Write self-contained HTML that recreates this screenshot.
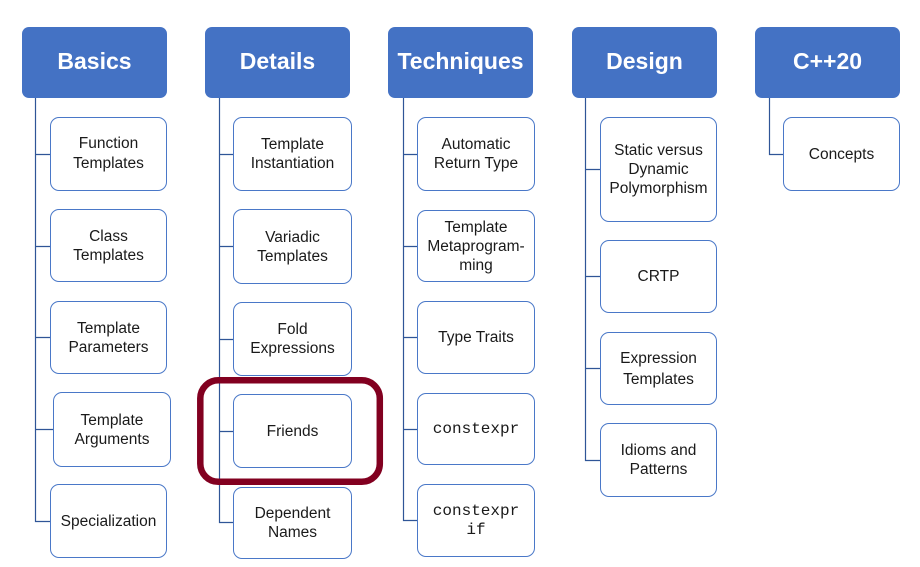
<!DOCTYPE html>
<html><head><meta charset="utf-8"><style>
html,body{margin:0;padding:0;background:#fff;}
body{width:920px;height:567px;position:relative;overflow:hidden;font-family:"Liberation Sans",sans-serif;}
.h{position:absolute;background:#4472c4;border-radius:7px;color:#fff;font-weight:bold;font-size:23px;display:flex;align-items:center;justify-content:center;top:27px;height:71px;width:145px;padding-bottom:2px;box-sizing:border-box;}
.b{position:absolute;box-sizing:border-box;border:1.3px solid #4a78c8;border-radius:9px;background:#fff;display:flex;align-items:center;justify-content:center;text-align:center;font-size:15.5px;line-height:19px;color:#1a1a1a;}
.m{font-family:"Liberation Mono",monospace;font-size:16px;}
svg{position:absolute;left:0;top:0;}
</style></head><body>
<svg width="920" height="567">
<g stroke="#2f5597" stroke-width="1.2" fill="none">
<path d="M35.5 98V521.5H50M35.5 154.5H50M35.5 246.5H50M35.5 337.5H50M35.5 429.5H53"/>
<path d="M219.5 98V522.5H233M219.5 154.5H233M219.5 246.5H233M219.5 339.5H233M219.5 431.5H233"/>
<path d="M403.5 98V520.5H417M403.5 154.5H417M403.5 246.5H417M403.5 337.5H417M403.5 429.5H417"/>
<path d="M585.5 98V460.5H600M585.5 169.5H600M585.5 276.5H600M585.5 368.5H600"/>
<path d="M769.5 98V154.5H783"/>
</g>
</svg>
<div class="h" style="left:22px;">Basics</div>
<div class="h" style="left:205px;">Details</div>
<div class="h" style="left:388px;">Techniques</div>
<div class="h" style="left:572px;">Design</div>
<div class="h" style="left:755px;">C++20</div>

<div class="b" style="left:50px;top:117px;width:117px;height:74px;line-height:20px;">Function<br>Templates</div>
<div class="b" style="left:50px;top:209px;width:117px;height:73px;">Class<br>Templates</div>
<div class="b" style="left:50px;top:301px;width:117px;height:73px;">Template<br>Parameters</div>
<div class="b" style="left:53px;top:392px;width:118px;height:75px;">Template<br>Arguments</div>
<div class="b" style="left:50px;top:484px;width:117px;height:74px;">Specialization</div>

<div class="b" style="left:233px;top:117px;width:119px;height:74px;">Template<br>Instantiation</div>
<div class="b" style="left:233px;top:209px;width:119px;height:75px;">Variadic<br>Templates</div>
<div class="b" style="left:233px;top:302px;width:119px;height:74px;">Fold<br>Expressions</div>
<div class="b" style="left:233px;top:394px;width:119px;height:74px;">Friends</div>
<div class="b" style="left:233px;top:487px;width:119px;height:72px;">Dependent<br>Names</div>

<div class="b" style="left:417px;top:117px;width:118px;height:74px;">Automatic<br>Return Type</div>
<div class="b" style="left:417px;top:210px;width:118px;height:72px;">Template<br>Metaprogram-<br>ming</div>
<div class="b" style="left:417px;top:301px;width:118px;height:73px;">Type Traits</div>
<div class="b m" style="left:417px;top:393px;width:118px;height:72px;">constexpr</div>
<div class="b m" style="left:417px;top:484px;width:118px;height:73px;">constexpr<br>if</div>

<div class="b" style="left:600px;top:117px;width:117px;height:105px;">Static versus<br>Dynamic<br>Polymorphism</div>
<div class="b" style="left:600px;top:240px;width:117px;height:73px;">CRTP</div>
<div class="b" style="left:600px;top:332px;width:117px;height:73px;line-height:21px;">Expression<br>Templates</div>
<div class="b" style="left:600px;top:423px;width:117px;height:74px;">Idioms and<br>Patterns</div>

<div class="b" style="left:783px;top:117px;width:117px;height:74px;">Concepts</div>

<svg width="920" height="567">
<rect x="200.3" y="380.3" width="179.5" height="101.5" rx="18" ry="18" fill="none" stroke="#820020" stroke-width="6.5"/>
</svg>
</body></html>
